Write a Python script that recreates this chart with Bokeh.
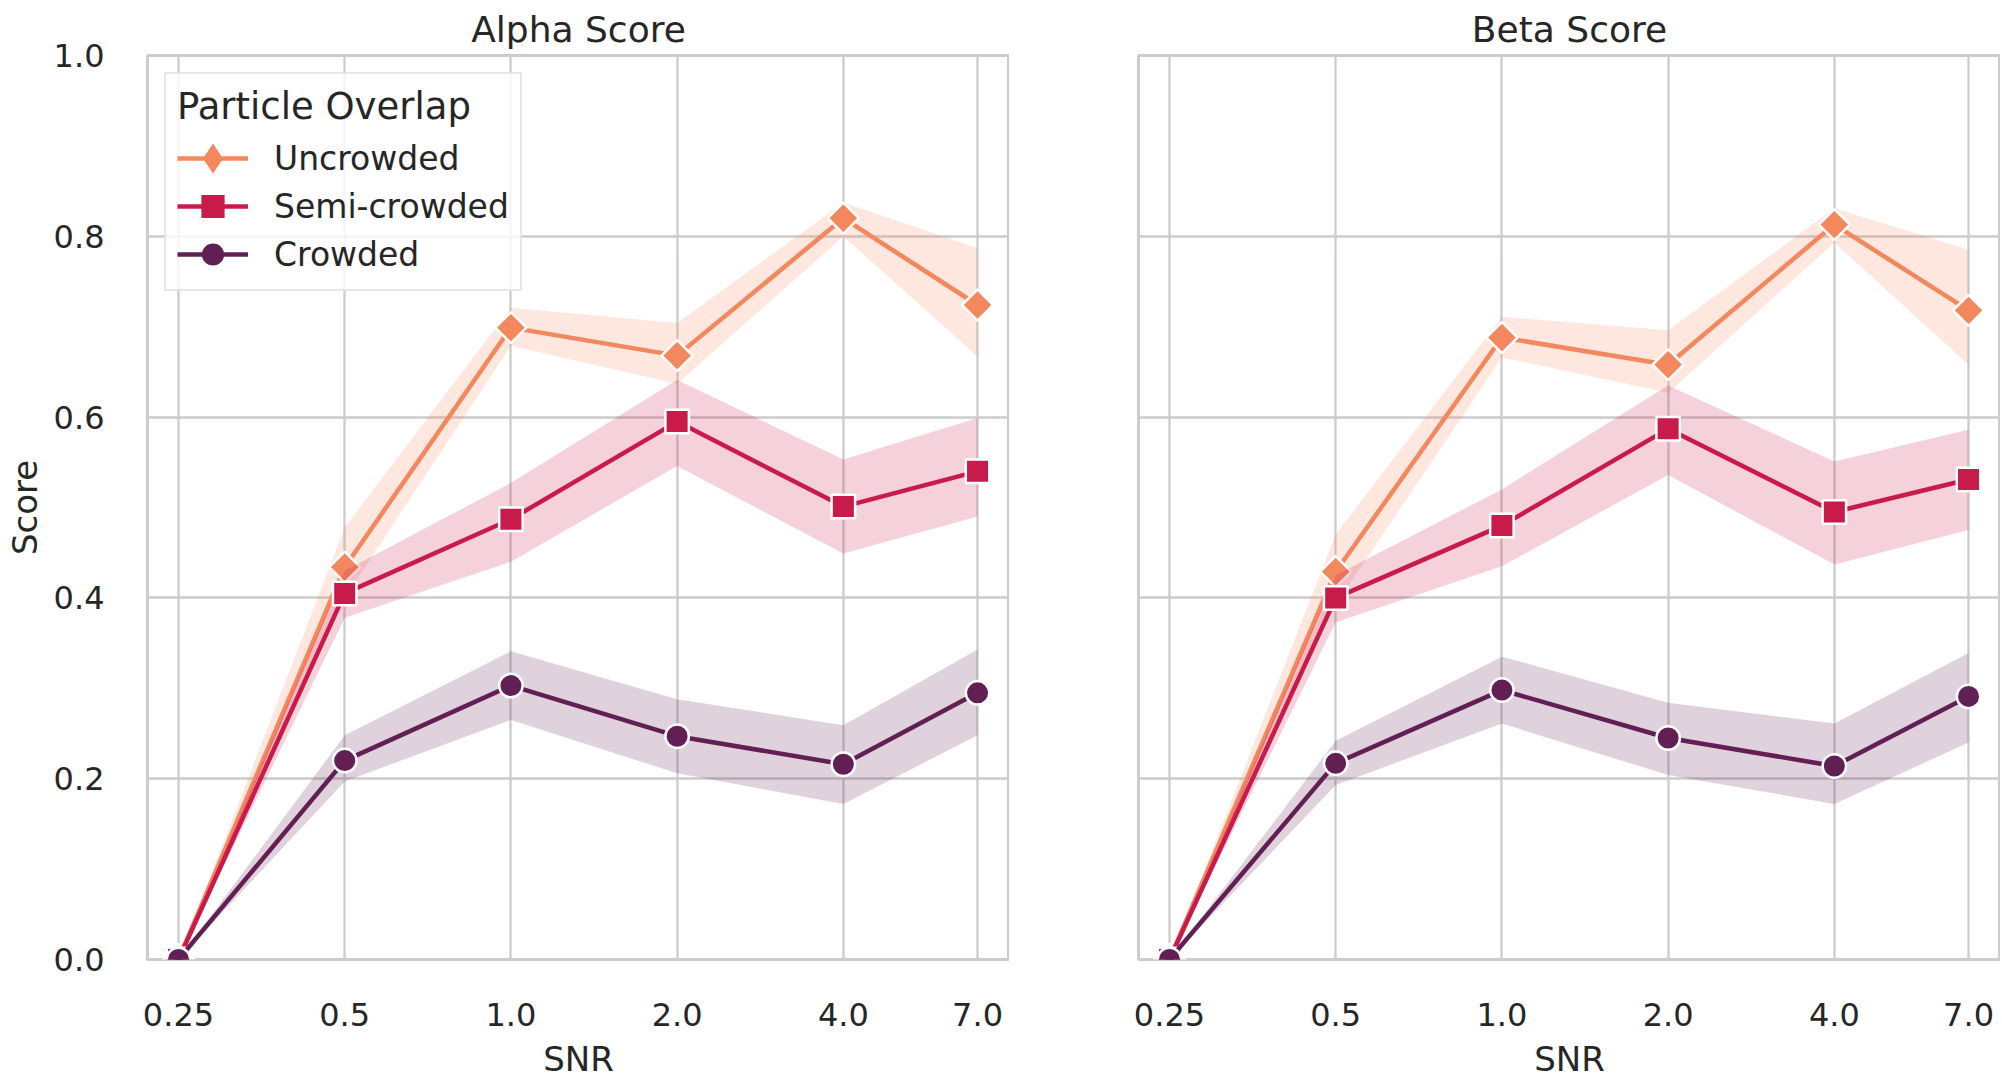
import math
from bokeh.plotting import figure
from bokeh.models import (Range1d, FixedTicker, CustomJSTickFormatter, NumeralTickFormatter,
                          Legend, LegendItem)
from bokeh.layouts import row
from bokeh.embed import file_html
from bokeh.resources import INLINE

# ---------------- data ----------------
snr = [0.25, 0.5, 1.0, 2.0, 4.0, 7.0]
y_ticks = [0.0, 0.2, 0.4, 0.6, 0.8, 1.0]
series_names = ["Uncrowded", "Semi-crowded", "Crowded"]

alpha_unc = [0.0, 0.434, 0.699, 0.668, 0.820, 0.724]
alpha_unc_lo = [0.0, 0.400, 0.679, 0.637, 0.800, 0.667]
alpha_unc_hi = [0.0, 0.478, 0.721, 0.704, 0.837, 0.787]
alpha_semi = [0.0, 0.405, 0.487, 0.595, 0.501, 0.540]
alpha_semi_lo = [0.0, 0.378, 0.440, 0.546, 0.449, 0.490]
alpha_semi_hi = [0.0, 0.430, 0.527, 0.641, 0.553, 0.599]
alpha_crowd = [0.0, 0.220, 0.303, 0.247, 0.216, 0.295]
alpha_crowd_lo = [0.0, 0.197, 0.265, 0.206, 0.172, 0.248]
alpha_crowd_hi = [0.0, 0.248, 0.341, 0.288, 0.259, 0.343]

beta_unc = [0.0, 0.429, 0.688, 0.658, 0.813, 0.718]
beta_unc_lo = [0.0, 0.393, 0.666, 0.627, 0.793, 0.658]
beta_unc_hi = [0.0, 0.470, 0.711, 0.696, 0.831, 0.785]
beta_semi = [0.0, 0.400, 0.480, 0.587, 0.495, 0.531]
beta_semi_lo = [0.0, 0.373, 0.435, 0.536, 0.437, 0.475]
beta_semi_hi = [0.0, 0.425, 0.520, 0.635, 0.551, 0.586]
beta_crowd = [0.0, 0.217, 0.298, 0.245, 0.214, 0.291]
beta_crowd_lo = [0.0, 0.193, 0.261, 0.204, 0.172, 0.240]
beta_crowd_hi = [0.0, 0.242, 0.335, 0.284, 0.261, 0.339]

# ---------------- style ----------------
FONT = "DejaVu Sans"
TXT = "#262626"
GRID = "#cccccc"
COLORS = ["#F3875E", "#C91A4C", "#611F53"]
MARKERS = [("square", 22, math.pi / 4), ("square", 23.5, 0.0), ("circle", 23.5, 0.0)]
# legend keys: (marker, outline width that enlarges the key)
KEYS = [("diamond", 6), ("square", 4), ("circle", 3)]


def make_panel(title, data, show_y, border_left, border_right):
    p = figure(frame_width=862, frame_height=904, x_axis_type="log",
               x_range=Range1d(0.2197, 7.998), y_range=Range1d(0, 1),
               output_backend="svg", toolbar_location=None,
               min_border_left=border_left, min_border_right=border_right,
               min_border_top=54, min_border_bottom=120,
               background_fill_color="white", border_fill_color="white",
               x_axis_label="SNR", y_axis_label="Score")
    p.title.text = title
    p.title.align = "center"
    p.title.text_font = FONT
    p.title.text_font_size = "36px"
    p.title.text_font_style = "normal"
    p.title.text_color = TXT
    p.title.text_line_height = 1.0
    p.title.standoff = 12

    p.outline_line_color = GRID
    p.outline_line_width = 3

    xt = FixedTicker(ticks=snr, minor_ticks=[])
    yt = FixedTicker(ticks=y_ticks, minor_ticks=[])
    p.xaxis.ticker = xt
    p.yaxis.ticker = yt
    p.xgrid.ticker = xt
    p.ygrid.ticker = yt
    p.xaxis.formatter = CustomJSTickFormatter(
        code="return tick < 0.3 ? tick.toFixed(2) : tick.toFixed(1);")
    p.yaxis.formatter = NumeralTickFormatter(format="0.0")

    for ax in (p.xaxis, p.yaxis):
        ax.axis_line_color = None
        ax.major_tick_line_color = None
        ax.minor_tick_line_color = None
        ax.major_tick_out = 0
        ax.major_tick_in = 0
        ax.minor_tick_out = 0
        ax.minor_tick_in = 0
        ax.major_label_text_font = FONT
        ax.major_label_text_font_size = "32px"
        ax.major_label_text_color = TXT
        ax.major_label_text_line_height = 1.0
        ax.axis_label_text_font = FONT
        ax.axis_label_text_font_size = "34px"
        ax.axis_label_text_font_style = "normal"
        ax.axis_label_text_color = TXT
        ax.axis_label_text_line_height = 1.0
    p.xaxis.major_label_standoff = 43
    p.xaxis.axis_label_standoff = 10
    p.yaxis.major_label_standoff = 43
    p.yaxis.axis_label_standoff = 6
    if not show_y:
        p.yaxis.visible = False

    for g in (p.xgrid, p.ygrid):
        g.grid_line_color = GRID
        g.grid_line_width = 2.3

    items = []
    for name, color, (mk, sz, ang), (kmk, klw), (y, lo, hi) in zip(
            series_names, COLORS, MARKERS, KEYS, data):
        p.varea(x=snr, y1=lo, y2=hi, fill_color=color, fill_alpha=0.2)
        ln = p.line(snr, y, line_color=color, line_width=4.5)
        # small key marker hidden under the real markers; it is what the legend shows
        key = p.scatter(snr, y, marker=kmk, size=5, fill_color=color,
                        line_color=color, line_width=klw, line_join="miter")
        p.scatter(snr, y, marker=mk, size=sz, angle=ang, fill_color=color,
                  line_color="white", line_width=2.5)
        items.append(LegendItem(label=name, renderers=[ln, key]))
    return p, items


alpha_data = [(alpha_unc, alpha_unc_lo, alpha_unc_hi),
              (alpha_semi, alpha_semi_lo, alpha_semi_hi),
              (alpha_crowd, alpha_crowd_lo, alpha_crowd_hi)]
beta_data = [(beta_unc, beta_unc_lo, beta_unc_hi),
             (beta_semi, beta_semi_lo, beta_semi_hi),
             (beta_crowd, beta_crowd_lo, beta_crowd_hi)]

p1, items1 = make_panel("Alpha Score", alpha_data, True, 147, 0)
p2, _ = make_panel("Beta Score", beta_data, False, 129, 0)

legend = Legend(items=items1, location="top_left", title="Particle Overlap",
                title_text_font=FONT, title_text_font_size="37px",
                title_text_font_style="normal", title_text_color=TXT,
                label_text_font=FONT, label_text_font_size="33px",
                label_text_color=TXT,
                glyph_width=71, glyph_height=48, label_height=48,
                label_standoff=26, spacing=0, padding=11, margin=17,
                title_standoff=6,
                border_line_color="#d0d0d0", border_line_width=2,
                background_fill_color="white", background_fill_alpha=0.8)
p1.add_layout(legend)

layout = row(p1, p2)
open("out.html", "w").write(file_html(layout, INLINE))
